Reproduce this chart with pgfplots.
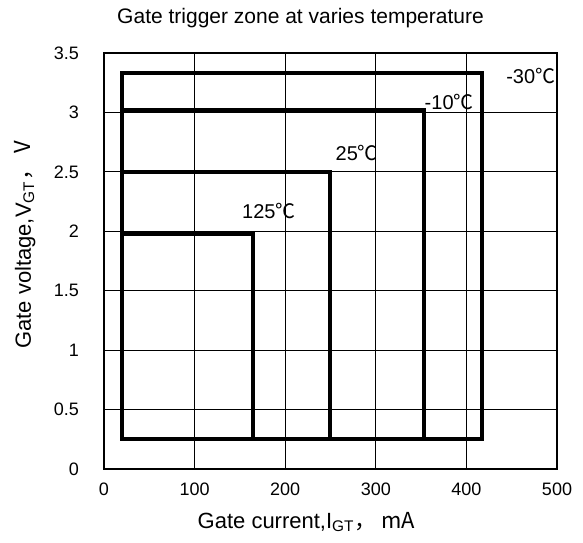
\documentclass[border=0pt]{standalone}
\usepackage{fontspec}
\setmainfont{Liberation Sans}
\newfontfamily\cjk{Noto Sans CJK SC}
\usepackage{pgfplots}
\pgfplotsset{compat=1.18}

\begin{document}
\fontsize{10}{12}\selectfont
\begin{tikzpicture}
\begin{axis}[
    scale only axis,
    width=226.5pt, height=208pt,
    xmin=0, xmax=500, ymin=0, ymax=3.5,
    xtick={0,100,200,300,400,500},
    ytick={0,0.5,1,1.5,2,2.5,3,3.5},
    grid=major,
    grid style={black, line width=0.5pt},
    major tick length=0pt,
    axis line style={line width=1pt},
    tick label style={font=\fontsize{9}{11}\selectfont},
    /pgf/number format/assume math mode=true,
    yticklabel style={xshift=-9pt},
    xticklabel style={yshift=-3.5pt},
    clip=false,
]
% -30 C
\addplot[black, line width=2pt, line join=miter] coordinates {
    (20,0.25) (20,3.33) (417,3.33) (417,0.25)} -- cycle;
% -10 C
\addplot[black, line width=2pt, line join=miter] coordinates {
    (20,0.25) (20,3.02) (353,3.02) (353,0.25)} -- cycle;
% 25 C
\addplot[black, line width=2pt, line join=miter] coordinates {
    (20,0.25) (20,2.50) (249,2.50) (249,0.25)} -- cycle;
% 125 C
\addplot[black, line width=2pt, line join=miter] coordinates {
    (20,0.25) (20,1.98) (165,1.98) (165,0.25)} -- cycle;

\node at (axis cs:471,3.31) {-30\cjk{℃}};
\node at (axis cs:381,3.09) {-10\cjk{℃}};
\node at (axis cs:279,2.66) {25\cjk{℃}};
\node at (axis cs:182,2.17) {125\cjk{℃}};
\end{axis}
\node at ([shift={(-15pt,17.5pt)}]current axis.north)
    {\fontsize{10.5}{12}\selectfont Gate trigger zone at varies temperature};
\node at ([shift={(-12pt,-26.5pt)}]current axis.south)
    {\fontsize{11}{13}\selectfont Gate current,I\textsubscript{GT}\cjk{，}\ mA};
\node[rotate=90] at ([shift={(-39.5pt,8pt)}]current axis.west)
    {\fontsize{11}{13}\selectfont Gate voltage,V\textsubscript{GT}\cjk{，}\ V};
\pgfresetboundingbox
\useasboundingbox ([shift={(-52pt,-36.5pt)}]current axis.south west)
    rectangle ([shift={(13pt,26.5pt)}]current axis.north east);
\end{tikzpicture}
\end{document}
